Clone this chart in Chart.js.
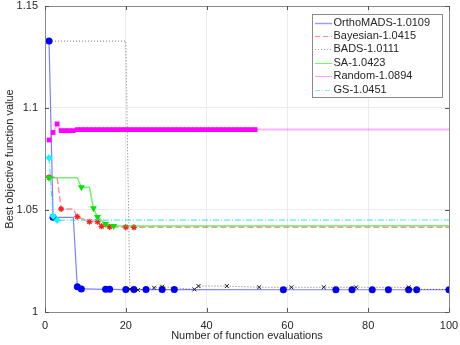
<!DOCTYPE html>
<html>
<head>
<meta charset="utf-8">
<script src="https://cdn.jsdelivr.net/npm/chart.js@4.4.1/dist/chart.umd.min.js"></script>
<style>
  html, body { margin: 0; padding: 0; background: #fff; }
  #wrap { width: 460px; height: 345px; }
</style>
</head>
<body>
<div id="wrap"><canvas id="conv"></canvas></div>
<script>
// series values (x = evaluation number, y = best objective)
const orthoX = [1, 2, 7, 8, 9, 15, 16, 20, 22, 25, 29, 32, 59, 72, 76, 81, 85, 90, 92, 100];
const orthoY = [1.1328, 1.0464, 1.0464, 1.0124, 1.0113, 1.0111, 1.0111, 1.011, 1.011, 1.011, 1.011, 1.011, 1.0109, 1.0109, 1.0109, 1.0109, 1.0109, 1.0109, 1.0109, 1.0109];
const orthoMark = [1, 1, 0, 1, 1, 1, 1, 1, 1, 1, 1, 1, 1, 1, 1, 1, 1, 1, 1, 1];

const bayesX = [1, 3, 4, 7, 8, 11, 13, 14, 15, 16, 20, 22, 100];
const bayesY = [1.066, 1.066, 1.0505, 1.0505, 1.0467, 1.0443, 1.0443, 1.042, 1.042, 1.0417, 1.0416, 1.0415, 1.0415];
const bayesMark = [1, 0, 1, 0, 1, 1, 1, 1, 0, 1, 1, 1, 0];

const badsX = [1, 20, 21, 23, 27, 29, 37, 38, 45, 53, 61, 69, 77, 90, 91, 100];
const badsY = [1.1328, 1.1328, 1.0112, 1.0108, 1.0119, 1.0124, 1.0111, 1.0127, 1.0127, 1.0121, 1.0121, 1.0121, 1.0121, 1.0121, 1.0111, 1.0111];
const badsMark = [0, 0, 1, 1, 1, 1, 1, 1, 1, 1, 1, 1, 1, 1, 0, 0];

const saX = [1, 8, 9, 11, 12, 13, 15, 17, 100];
const saY = [1.0658, 1.0658, 1.0611, 1.0611, 1.0508, 1.0466, 1.0431, 1.0422, 1.0423];
const saMark = [1, 0, 1, 0, 1, 1, 1, 1, 0];

const randX = [1, 2, 3, 4, 5, 6, 7, 8, 9, 10, 11, 12, 13, 14, 15, 16, 17, 18, 19, 20,
  21, 22, 23, 24, 25, 26, 27, 28, 29, 30, 31, 32, 33, 34, 35, 36, 37, 38, 39, 40,
  41, 42, 43, 44, 45, 46, 47, 48, 49, 50, 51, 52, 100];
const randY = [1.0843, 1.088, 1.0922, 1.0889, 1.0889, 1.0889, 1.0889, 1.0894, 1.0894, 1.0894,
  1.0894, 1.0894, 1.0894, 1.0894, 1.0894, 1.0894, 1.0894, 1.0894, 1.0894, 1.0894,
  1.0894, 1.0894, 1.0894, 1.0894, 1.0894, 1.0894, 1.0894, 1.0894, 1.0894, 1.0894,
  1.0894, 1.0894, 1.0894, 1.0894, 1.0894, 1.0894, 1.0894, 1.0894, 1.0894, 1.0894,
  1.0894, 1.0894, 1.0894, 1.0894, 1.0894, 1.0894, 1.0894, 1.0894, 1.0894, 1.0894,
  1.0894, 1.0894, 1.0894];

const gsX = [1, 2, 3, 100];
const gsY = [1.0756, 1.047, 1.045, 1.0451];
const gsMark = [1, 1, 1, 0];

const seriesNames = ["OrthoMADS-1.0109", "Bayesian-1.0415", "BADS-1.0111", "SA-1.0423", "Random-1.0894", "GS-1.0451"];
const xTicks = [0, 20, 40, 60, 80, 100];
const yTicks = [1, 1.05, 1.1, 1.15];

const txt = "#262626";
const fontFam = "'Liberation Sans', Arial, Helvetica, sans-serif";

function pts(xs, ys) {
	let out = [];
	for (let i = 0; i < xs.length; i++) out.push({x: xs[i], y: ys[i]});
	return out;
}
function radii(marks, r) {
	return marks.map(m => m ? r : 0);
}

// legend sample styles
const legendStyle = [
	{color: "#9a9aff", dash: [], width: 1.5},
	{color: "#ff8c8c", dash: [5, 3], width: 1},
	{color: "#a0a0a0", dash: [1, 2], width: 1},
	{color: "#66ff66", dash: [], width: 1},
	{color: "#ff9cff", dash: [], width: 1},
	{color: "#88f0f0", dash: [5, 2, 1, 2], width: 1}
];

const framePlugin = {
	id: "frame",
	afterDatasetsDraw(chart) {
		const ctx = chart.ctx;
		const a = chart.chartArea;
		const xs = chart.scales.x, ys = chart.scales.y;
		ctx.save();
		ctx.strokeStyle = "#8a8a8a";
		ctx.lineWidth = 1;
		ctx.setLineDash([]);
		ctx.strokeRect(Math.round(a.left) + 0.5, Math.round(a.top) + 0.5, Math.round(a.right - a.left), Math.round(a.bottom - a.top));
		ctx.strokeStyle = "#555";
		ctx.beginPath();
		xTicks.forEach(v => {
			const px = Math.round(xs.getPixelForValue(v)) + 0.5;
			ctx.moveTo(px, a.bottom); ctx.lineTo(px, a.bottom - 4);
			ctx.moveTo(px, a.top); ctx.lineTo(px, a.top + 4);
		});
		yTicks.forEach(v => {
			const py = Math.round(ys.getPixelForValue(v)) + 0.5;
			ctx.moveTo(a.left, py); ctx.lineTo(a.left + 4, py);
			ctx.moveTo(a.right, py); ctx.lineTo(a.right - 4, py);
		});
		ctx.stroke();

		// legend box
		const bx = 312.5, by = 14.5, bw = 130, bh = 83;
		ctx.fillStyle = "#fff";
		ctx.fillRect(bx, by, bw, bh);
		ctx.strokeStyle = "#8a8a8a";
		ctx.strokeRect(bx, by, bw, bh);
		ctx.font = "11px " + fontFam;
		ctx.textBaseline = "middle";
		ctx.textAlign = "left";
		chart.data.datasets.forEach((ds, i) => {
			const yy = 22.5 + i * 13.4;
			const st = legendStyle[i];
			ctx.beginPath();
			ctx.setLineDash(st.dash);
			ctx.strokeStyle = st.color;
			ctx.lineWidth = st.width;
			ctx.moveTo(315, Math.round(yy) + 0.5);
			ctx.lineTo(332, Math.round(yy) + 0.5);
			ctx.stroke();
			ctx.setLineDash([]);
			ctx.fillStyle = txt;
			ctx.fillText(ds.label, 333.5, yy);
		});
		ctx.restore();
	}
};

const ctx = document.getElementById("conv");
const chart = new Chart(ctx, {
	type: "line",
	data: {
		datasets: [{
			label: seriesNames[0],
			data: pts(orthoX, orthoY),
			borderColor: "rgba(40,40,255,0.6)",
			borderWidth: 1.2,
			pointStyle: "circle",
			pointRadius: radii(orthoMark, 3.5),
			pointBackgroundColor: "#0000ff",
			pointBorderColor: "#0000ff",
			pointBorderWidth: 0,
			order: 6
		}, {
			label: seriesNames[1],
			data: pts(bayesX, bayesY),
			borderColor: "rgba(255,60,60,0.55)",
			borderWidth: 1.5,
			borderDash: [6, 3],
			pointStyle: "star",
			pointRadius: radii(bayesMark, 3),
			pointBackgroundColor: "#ff0000",
			pointBorderColor: "#ff2020",
			pointBorderWidth: 1.3,
			order: 5
		}, {
			label: seriesNames[2],
			data: pts(badsX, badsY),
			borderColor: "rgba(0,0,0,0.55)",
			borderWidth: 1,
			borderDash: [1, 2],
			pointStyle: "crossRot",
			pointRadius: radii(badsMark, 2.8),
			pointBorderColor: "#111",
			pointBorderWidth: 1,
			order: 4
		}, {
			label: seriesNames[3],
			data: pts(saX, saY),
			borderColor: "rgba(0,230,0,0.55)",
			borderWidth: 1.5,
			pointStyle: "triangle",
			rotation: 180,
			pointRadius: radii(saMark, 4),
			pointBackgroundColor: "#00e600",
			pointBorderColor: "#00e600",
			pointBorderWidth: 0,
			order: 3
		}, {
			label: seriesNames[4],
			data: pts(randX, randY),
			borderColor: "rgba(255,0,255,0.3)",
			borderWidth: 2,
			pointStyle: "rect",
			pointRadius: radii(randX.map(v => v < 100), 3.4),
			pointBackgroundColor: "#ff00ff",
			pointBorderColor: "#ff00ff",
			pointBorderWidth: 0,
			order: 2
		}, {
			label: seriesNames[5],
			data: pts(gsX, gsY),
			borderColor: "rgba(0,225,225,0.7)",
			borderWidth: 1.2,
			borderDash: [6, 2, 1, 2],
			pointStyle: "rectRot",
			pointRadius: radii(gsMark, 3.6),
			pointBackgroundColor: "#00ffff",
			pointBorderColor: "#00e8e8",
			pointBorderWidth: 0,
			order: 1
		}]
	},
	options: {
		responsive: true,
		maintainAspectRatio: false,
		animation: false,
		layout: { padding: { left: 0, right: 11, top: 6, bottom: 0 } },
		plugins: {
			legend: { display: false },
			tooltip: { enabled: false }
		},
		elements: { line: { tension: 0, fill: false } },
		scales: {
			x: {
				type: "linear",
				min: 0, max: 100,
				afterBuildTicks: s => { s.ticks = xTicks.map(v => ({value: v})); },
				afterFit: s => { s.height = 33; s.paddingLeft = 0; s.paddingRight = 0; },
				grid: { color: "#ebebeb", drawTicks: false },
				border: { display: false },
				ticks: { color: txt, font: { family: fontFam, size: 11 }, padding: 7, maxRotation: 0 },
				title: { display: true, text: "Number of function evaluations", color: txt,
					font: { family: fontFam, size: 11 }, padding: { top: 0, bottom: 2 } }
			},
			y: {
				type: "linear",
				min: 1, max: 1.15,
				afterBuildTicks: s => { s.ticks = yTicks.map(v => ({value: v})); },
				afterFit: s => { s.width = 45; s.paddingTop = 0; s.paddingBottom = 0; },
				grid: { color: "#ebebeb", drawTicks: false },
				border: { display: false },
				ticks: { color: txt, font: { family: fontFam, size: 11 }, padding: 7,
					callback: v => String(parseFloat(v.toFixed(2))) },
				title: { display: true, text: "Best objective function value", color: txt,
					font: { family: fontFam, size: 11 }, padding: { top: 3, bottom: 0 } }
			}
		}
	},
	plugins: [framePlugin]
});
</script>
</body>
</html>
